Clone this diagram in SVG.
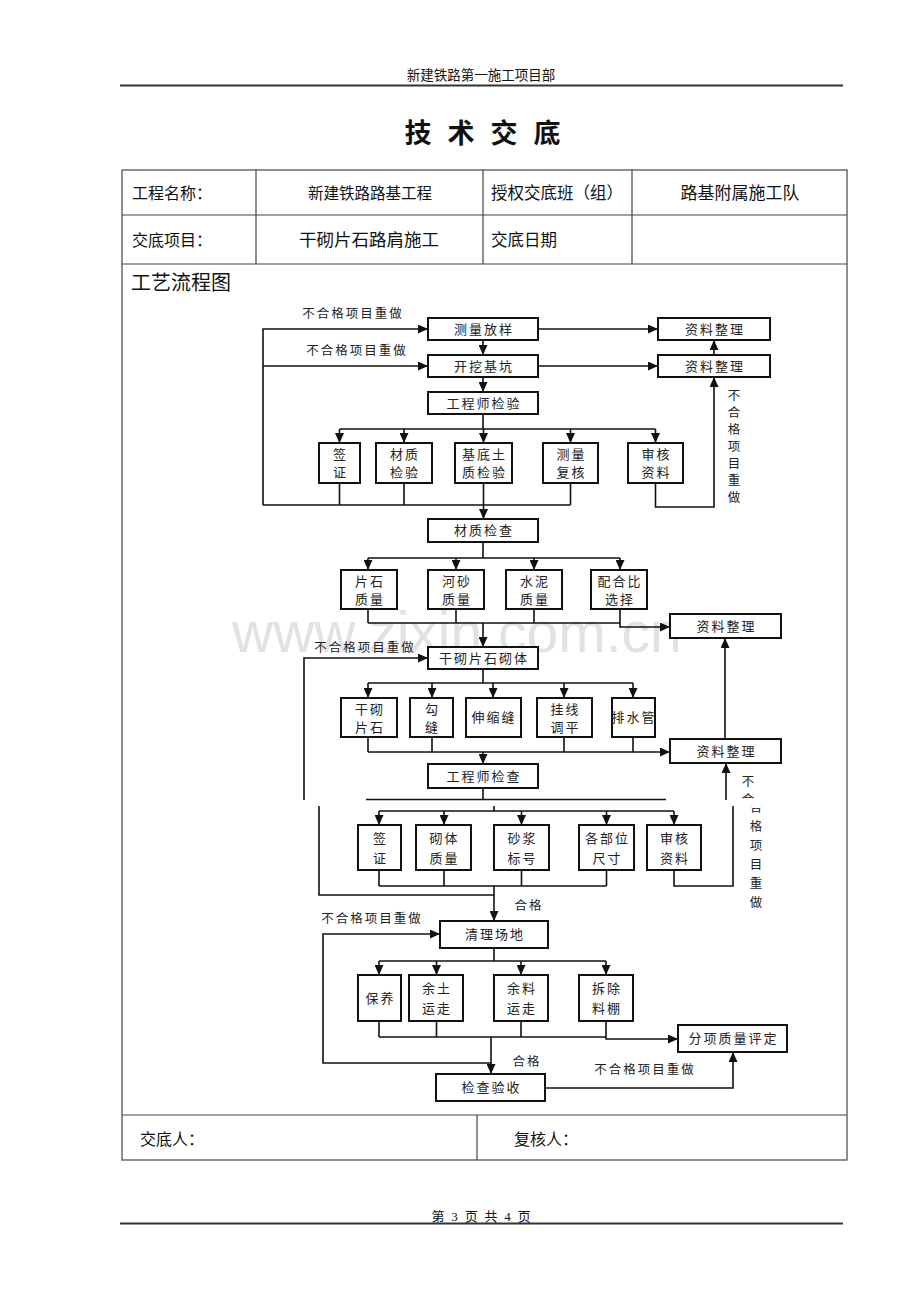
<svg xmlns="http://www.w3.org/2000/svg" width="920" height="1302" viewBox="0 0 920 1302">
<style>
.box{fill:#fff;stroke:#111;stroke-width:2}
.ln{fill:none;stroke:#111;stroke-width:1.6}
.arr{marker-end:url(#ah)}
.tb{fill:none;stroke:#444;stroke-width:1.2}
.t{font-family:"Liberation Serif","Noto Sans CJK SC",serif;font-size:13px;fill:#222;text-anchor:middle;dominant-baseline:central;letter-spacing:2px}
.lb{font-family:"Liberation Serif","Noto Sans CJK SC",serif;font-size:12.5px;fill:#222;text-anchor:middle;dominant-baseline:central;letter-spacing:2px}
.vt{font-family:"Liberation Serif","Noto Sans CJK SC",serif;font-size:12.5px;fill:#222;text-anchor:middle;dominant-baseline:central}
.tt{font-family:"Liberation Serif","Noto Sans CJK SC",serif;fill:#111;dominant-baseline:central}
</style>
<defs>
<marker id="ah" markerUnits="userSpaceOnUse" markerWidth="10" markerHeight="9" refX="10" refY="4.5" orient="auto"><path d="M0,0 L10,4.5 L0,9 z" fill="#111"/></marker>
<clipPath id="cu"><rect x="0" y="0" width="920" height="800"/></clipPath>
<clipPath id="cl"><rect x="0" y="806" width="920" height="496"/></clipPath>
</defs>
<rect width="920" height="1302" fill="#fff"/>

<!-- page header / footer -->
<g id="page">
<text class="tt" x="481" y="75" font-size="13.5" text-anchor="middle">新建铁路第一施工项目部</text>
<line x1="120" y1="85.5" x2="843" y2="85.5" stroke="#333" stroke-width="2"/>
<g font-size="27" font-weight="700" text-anchor="middle">
<text class="tt" x="418" y="134">技</text><text class="tt" x="461" y="134">术</text><text class="tt" x="504" y="134">交</text><text class="tt" x="547" y="134">底</text>
</g>
<text class="tt" x="482" y="1216" font-size="13" text-anchor="middle" letter-spacing="1.8">第 3 页 共 4 页</text>
<line x1="120" y1="1223.5" x2="843" y2="1223.5" stroke="#333" stroke-width="2"/>
</g>

<!-- table -->
<g id="table">
<rect class="tb" x="122" y="170" width="725" height="990"/>
<line class="tb" x1="122" y1="215" x2="847" y2="215"/>
<line class="tb" x1="122" y1="264" x2="847" y2="264"/>
<line class="tb" x1="122" y1="1115" x2="847" y2="1115"/>
<line class="tb" x1="256" y1="170" x2="256" y2="264"/>
<line class="tb" x1="483" y1="170" x2="483" y2="264"/>
<line class="tb" x1="632" y1="170" x2="632" y2="264"/>
<line class="tb" x1="477" y1="1115" x2="477" y2="1160"/>
<text class="tt" x="132" y="193" font-size="16">工程名称：</text>
<text class="tt" x="370" y="193" font-size="15.5" text-anchor="middle">新建铁路路基工程</text>
<text class="tt" x="491" y="193" font-size="16.5">授权交底班（组）</text>
<text class="tt" x="740" y="193" font-size="17" text-anchor="middle">路基附属施工队</text>
<text class="tt" x="132" y="240" font-size="16">交底项目：</text>
<text class="tt" x="369" y="240" font-size="17.5" text-anchor="middle">干砌片石路肩施工</text>
<text class="tt" x="491" y="240" font-size="16.5">交底日期</text>
<text class="tt" x="131" y="283" font-size="20">工艺流程图</text>
<text class="tt" x="140" y="1139" font-size="16">交底人：</text>
<text class="tt" x="514" y="1139" font-size="16">复核人：</text>
</g>

<text x="232" y="652" font-family="Liberation Sans,Arial,sans-serif" font-size="57" fill="#e2e2e2">www.zixin.com.cn</text>

<!-- connectors -->
<g id="connectors">
<!-- top -->
<path class="ln arr" d="M538,329 H658"/>
<path class="ln arr" d="M483,340 V355"/>
<path class="ln arr" d="M538,366 H658"/>
<path class="ln arr" d="M714,355 V340"/>
<path class="ln arr" d="M483,377 V392"/>
<path class="ln" d="M483,414 V429 M339.5,429 H655.5"/>
<path class="ln arr" d="M339.5,429 V443"/>
<path class="ln arr" d="M404,429 V443"/>
<path class="ln arr" d="M483.5,429 V443"/>
<path class="ln arr" d="M570.5,429 V443"/>
<path class="ln arr" d="M655.5,429 V443"/>
<path class="ln" d="M339.5,483 V505 M404,483 V505 M570.5,483 V505 M263,505 H570.5"/>
<path class="ln arr" d="M263,505 V329 H428"/>
<path class="ln arr" d="M263,366 H428"/>
<path class="ln arr" d="M483.5,483 V519"/>
<path class="ln arr" d="M655.5,483 V507 H714 V377"/>
<!-- middle -->
<path class="ln" d="M483,542 V558 M368,558 H620"/>
<path class="ln arr" d="M368,558 V570"/>
<path class="ln arr" d="M456,558 V570"/>
<path class="ln arr" d="M534,558 V570"/>
<path class="ln arr" d="M620,558 V570"/>
<path class="ln" d="M368,609 V623 M456,609 V623 M534,609 V623 M368,623 H620"/>
<path class="ln arr" d="M620,609 V627 H670"/>
<path class="ln arr" d="M483,623 V647"/>
<path class="ln arr" d="M304,800 V658 H428"/>
<path class="ln" d="M483,669 V683 M368,683 H633"/>
<path class="ln arr" d="M368,683 V698"/>
<path class="ln arr" d="M432,683 V698"/>
<path class="ln arr" d="M493,683 V698"/>
<path class="ln arr" d="M564,683 V698"/>
<path class="ln arr" d="M633,683 V698"/>
<path class="ln" d="M368,737 V752 M432,737 V752 M564,737 V752 M368,752 H633"/>
<path class="ln arr" d="M633,737 V752 H670"/>
<path class="ln arr" d="M483,752 V764"/>
<path class="ln arr" d="M725,739 V638"/>
<path class="ln" d="M483,788 V800"/>
<path class="ln arr" d="M726,800 V763"/>
<line x1="366" y1="799.5" x2="666" y2="799.5" stroke="#111" stroke-width="1.5"/>
<!-- lower -->
<path class="ln" d="M319,806 V895 H494"/>
<path class="ln" d="M494,806 V811 M379,811 H674"/>
<path class="ln arr" d="M379,811 V825"/>
<path class="ln arr" d="M444,811 V825"/>
<path class="ln arr" d="M521.5,811 V825"/>
<path class="ln arr" d="M606.5,811 V825"/>
<path class="ln arr" d="M674,811 V825"/>
<path class="ln" d="M379,870 V886 M444,870 V886 M521.5,870 V886 M606.5,870 V886 M379,886 H606.5"/>
<path class="ln" d="M674,870 V886 H733 V806"/>
<path class="ln arr" d="M494,886 V921"/>
<path class="ln arr" d="M491,1063 H323 V934 H440"/>
<path class="ln" d="M494,948 V961 M379,961 H606"/>
<path class="ln arr" d="M379,961 V975"/>
<path class="ln arr" d="M436.5,961 V975"/>
<path class="ln arr" d="M521,961 V975"/>
<path class="ln arr" d="M606,961 V975"/>
<path class="ln" d="M379,1021 V1037 M436.5,1021 V1037 M521,1021 V1037 M379,1037 H606"/>
<path class="ln arr" d="M606,1021 V1039 H678"/>
<path class="ln arr" d="M491,1037 V1074"/>
<path class="ln arr" d="M545,1088 H733 V1052"/>
</g>

<!-- labels -->
<g id="labels">
<text class="lb" x="353" y="314">不合格项目重做</text>
<text class="lb" x="357" y="351">不合格项目重做</text>
<g class="vt">
<text class="vt" x="734" y="396">不</text><text class="vt" x="734" y="413">合</text><text class="vt" x="734" y="430">格</text><text class="vt" x="734" y="447">项</text><text class="vt" x="734" y="464">目</text><text class="vt" x="734" y="481">重</text><text class="vt" x="734" y="498">做</text>
</g>
<text class="lb" x="365" y="648">不合格项目重做</text>
<text class="vt" x="748" y="782">不</text>
<text class="vt" x="748" y="800" clip-path="url(#cu)">合</text>
<text class="vt" x="756" y="808" clip-path="url(#cl)">合</text>
<text class="vt" x="756" y="827">格</text><text class="vt" x="756" y="846">项</text><text class="vt" x="756" y="865">目</text><text class="vt" x="756" y="884">重</text><text class="vt" x="756" y="903">做</text>
<text class="lb" x="529" y="906">合格</text>
<text class="lb" x="372" y="919">不合格项目重做</text>
<text class="lb" x="527" y="1062">合格</text>
<text class="lb" x="645" y="1070">不合格项目重做</text>
</g>

<!-- nodes -->
<g id="n-celiang"><rect class="box" x="428" y="318" width="110" height="22"/><text class="t" x="484" y="329">测量放样</text></g>
<g id="n-ziliao1"><rect class="box" x="658" y="318" width="112" height="22"/><text class="t" x="715" y="329">资料整理</text></g>
<g id="n-kaiwa"><rect class="box" x="428" y="355" width="110" height="22"/><text class="t" x="484" y="366">开挖基坑</text></g>
<g id="n-ziliao2"><rect class="box" x="658" y="355" width="112" height="22"/><text class="t" x="715" y="366">资料整理</text></g>
<g id="n-gcsjy"><rect class="box" x="428" y="392" width="110" height="22"/><text class="t" x="484" y="403">工程师检验</text></g>
<g id="n-qz1"><rect class="box" x="319" y="443" width="41" height="40"/><text class="t" x="340.5" y="454">签</text><text class="t" x="340.5" y="472">证</text></g>
<g id="n-czjy"><rect class="box" x="376" y="443" width="56" height="40"/><text class="t" x="405" y="454">材质</text><text class="t" x="405" y="472">检验</text></g>
<g id="n-jdt"><rect class="box" x="455" y="443" width="57" height="40"/><text class="t" x="484.5" y="454">基底土</text><text class="t" x="484.5" y="472">质检验</text></g>
<g id="n-clfh"><rect class="box" x="543" y="443" width="55" height="40"/><text class="t" x="571.5" y="454">测量</text><text class="t" x="571.5" y="472">复核</text></g>
<g id="n-shzl1"><rect class="box" x="628" y="443" width="55" height="40"/><text class="t" x="656.5" y="454">审核</text><text class="t" x="656.5" y="472">资料</text></g>

<g id="n-czjc"><rect class="box" x="428" y="519" width="110" height="23"/><text class="t" x="484" y="530.5">材质检查</text></g>
<g id="n-psz"><rect class="box" x="341" y="570" width="56" height="39"/><text class="t" x="370" y="581">片石</text><text class="t" x="370" y="599">质量</text></g>
<g id="n-hsz"><rect class="box" x="428" y="570" width="56" height="39"/><text class="t" x="457" y="581">河砂</text><text class="t" x="457" y="599">质量</text></g>
<g id="n-snz"><rect class="box" x="506" y="570" width="56" height="39"/><text class="t" x="535" y="581">水泥</text><text class="t" x="535" y="599">质量</text></g>
<g id="n-phb"><rect class="box" x="591" y="570" width="56" height="39"/><text class="t" x="620" y="581">配合比</text><text class="t" x="620" y="599">选择</text></g>
<g id="n-ziliao3"><rect class="box" x="670" y="614" width="111" height="24"/><text class="t" x="726.5" y="626">资料整理</text></g>
<g id="n-gqqt"><rect class="box" x="428" y="647" width="110" height="22"/><text class="t" x="484" y="658">干砌片石砌体</text></g>
<g id="n-gqps"><rect class="box" x="341" y="698" width="56" height="39"/><text class="t" x="370" y="709">干砌</text><text class="t" x="370" y="727">片石</text></g>
<g id="n-gf"><rect class="box" x="410" y="698" width="43" height="39"/><text class="t" x="432.5" y="709">勾</text><text class="t" x="432.5" y="727">缝</text></g>
<g id="n-ssf"><rect class="box" x="466" y="698" width="55" height="39"/><text class="t" x="494" y="717.5" letter-spacing="0.5">伸缩缝</text></g>
<g id="n-gxtp"><rect class="box" x="537" y="698" width="55" height="39"/><text class="t" x="565.5" y="709">挂线</text><text class="t" x="565.5" y="727">调平</text></g>
<g id="n-psg"><rect class="box" x="612" y="698" width="43" height="39"/><text class="t" x="634" y="717.5" font-size="12" letter-spacing="0">排水管</text></g>
<g id="n-ziliao4"><rect class="box" x="670" y="739" width="111" height="24"/><text class="t" x="726.5" y="751">资料整理</text></g>
<g id="n-gcsjc"><rect class="box" x="428" y="764" width="110" height="24"/><text class="t" x="484" y="776">工程师检查</text></g>

<g id="n-qz2"><rect class="box" x="358" y="825" width="43" height="45"/><text class="t" x="380.5" y="838">签</text><text class="t" x="380.5" y="858">证</text></g>
<g id="n-qtzl"><rect class="box" x="416" y="825" width="55" height="45"/><text class="t" x="444.5" y="838">砌体</text><text class="t" x="444.5" y="858">质量</text></g>
<g id="n-sjbh"><rect class="box" x="494" y="825" width="55" height="45"/><text class="t" x="522.5" y="838">砂浆</text><text class="t" x="522.5" y="858">标号</text></g>
<g id="n-gbw"><rect class="box" x="579" y="825" width="55" height="45"/><text class="t" x="607.5" y="838">各部位</text><text class="t" x="607.5" y="858">尺寸</text></g>
<g id="n-shzl2"><rect class="box" x="647" y="825" width="54" height="45"/><text class="t" x="675" y="838">审核</text><text class="t" x="675" y="858">资料</text></g>
<g id="n-qlcd"><rect class="box" x="440" y="921" width="108" height="27"/><text class="t" x="495" y="934.5">清理场地</text></g>
<g id="n-by"><rect class="box" x="358" y="975" width="43" height="46"/><text class="t" x="380.5" y="998" letter-spacing="0.5">保养</text></g>
<g id="n-ytyz"><rect class="box" x="409" y="975" width="54" height="46"/><text class="t" x="437" y="988">余土</text><text class="t" x="437" y="1008">运走</text></g>
<g id="n-ylyz"><rect class="box" x="494" y="975" width="54" height="46"/><text class="t" x="522" y="988">余料</text><text class="t" x="522" y="1008">运走</text></g>
<g id="n-cclp"><rect class="box" x="579" y="975" width="54" height="46"/><text class="t" x="607" y="988">拆除</text><text class="t" x="607" y="1008">料棚</text></g>
<g id="n-fxzl"><rect class="box" x="678" y="1025" width="109" height="27"/><text class="t" x="733.5" y="1038.5">分项质量评定</text></g>
<g id="n-jcys"><rect class="box" x="436" y="1074" width="109" height="27"/><text class="t" x="491.5" y="1087.5">检查验收</text></g>
</svg>
